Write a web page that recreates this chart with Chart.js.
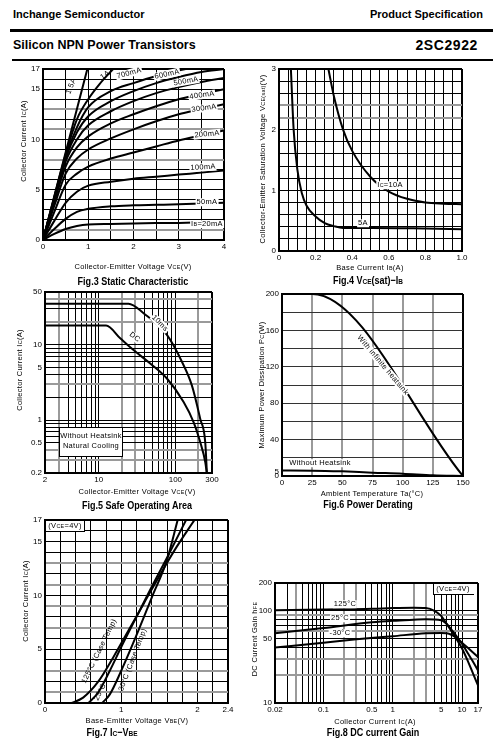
<!DOCTYPE html>
<html>
<head>
<meta charset="utf-8">
<script src="https://cdn.jsdelivr.net/npm/chart.js@4.4.1/dist/chart.umd.min.js"></script>
<style>
  body { margin: 0; background: #fff; width: 498px; height: 746px; position: relative; overflow: hidden;
         font-family: "Liberation Sans", Arial, sans-serif; color: #000; }
  canvas { position: absolute; }
  .t { position: absolute; white-space: nowrap; transform: translate(-50%, -50%); font-size: 7.5px;
       letter-spacing: 0.3px; line-height: 1; color: #000; filter: grayscale(1); }
  .w { background: #fff; padding: 0 1px; }
  .s { font-size: 72%; }
  .cap { font-weight: bold; font-size: 11px; letter-spacing: 0; }
  .hd { position: absolute; white-space: nowrap; font-weight: bold; transform: translateY(-50%); }
  .rule { position: absolute; background: #000; }
  .box { position: absolute; background: #fff; }
</style>
</head>
<body>
<div class="hd" style="left:13px;top:14px;font-size:11px">Inchange Semiconductor</div>
<div class="hd" style="right:15px;top:14px;font-size:11px">Product Specification</div>
<div class="rule" style="left:10px;top:29px;width:483px;height:3px"></div>
<div class="hd" style="left:13px;top:45px;font-size:12.5px">Silicon NPN Power Transistors</div>
<div class="hd" style="right:20px;top:45px;font-size:14px;letter-spacing:0.6px">2SC2922</div>
<div class="rule" style="left:12px;top:59px;width:481px;height:2px"></div>

<script>
// グリッドと目盛り
const f3XGrid = [0, 0.5, 1, 1.5, 2, 2.5, 3, 3.5, 4];
const f3XLabels = ["0", "1", "2", "3", "4"];
const f3YGrid = [0, 1, 2, 3, 4, 5, 6, 7, 8, 9, 10, 11, 12, 13, 14, 15, 16, 17];
const f3YLabels = ["0", "5", "10", "15", "17"];

// Fig.3 Static Characteristic
const f3Vce = [0, 0.25, 0.5, 0.75, 1, 1.5, 2, 2.5, 3, 3.5, 4];
const f3Ib20 = [0, 0.6, 1.1, 1.4, 1.55, 1.6, 1.65, 1.68, 1.7, 1.75, 1.8];
const f3Ib50 = [0, 1.1, 2.1, 2.8, 3.1, 3.35, 3.45, 3.5, 3.55, 3.62, 3.7];
const f3Ib100 = [0, 1.9, 3.7, 4.8, 5.4, 5.8, 6.1, 6.3, 6.5, 6.7, 6.9];
const f3Ib200 = [0, 2.8, 5.5, 6.6, 7.3, 8.1, 8.7, 9.3, 9.9, 10.4, 10.9];
const f3Ib300 = [0, 3.4, 6.6, 8.1, 9.0, 10.1, 11.0, 11.8, 12.5, 13.0, 13.5];
const f3Ib400 = [0, 3.8, 7.3, 9.2, 10.3, 11.6, 12.5, 13.3, 14.0, 14.5, 15.0];
const f3Ib500 = [0, 4.0, 7.8, 10.0, 11.4, 12.8, 13.8, 14.6, 15.2, 15.7, 16.1];
const f3Ib600 = [0, 4.1, 8.1, 10.7, 12.3, 13.8, 14.8, 15.6, 16.2, 16.7, 17.0];
const f3V700 = [0, 0.25, 0.5, 0.75, 1, 1.5, 2, 2.5, 3, 3.15];
const f3Ib700 = [0, 4.2, 8.3, 11.2, 13.2, 14.8, 15.6, 16.3, 16.85, 17];
const f3V1000 = [0, 0.25, 0.5, 0.75, 1, 1.25, 1.55];
const f3Ib1000 = [0, 4.3, 8.5, 12.0, 14.0, 15.5, 17];
const f3V1500 = [0, 0.5, 0.98];
const f3Ib1500 = [0, 8.7, 17];

// Fig.4 VCE(sat)-IB
const f4XGrid = [0, 0.05, 0.1, 0.15, 0.2, 0.25, 0.3, 0.35, 0.4, 0.45, 0.5, 0.55, 0.6, 0.65, 0.7, 0.75, 0.8, 0.85, 0.9, 0.95, 1];
const f4XLabels = ["0", "0.2", "0.4", "0.6", "0.8", "1.0"];
const f4YGrid = [0, 0.2, 0.4, 0.6, 0.8, 1, 1.2, 1.4, 1.6, 1.8, 2, 2.2, 2.4, 2.6, 2.8, 3];
const f4YLabels = ["0", "1", "2", "3"];
const f4Ib10 = [0.27, 0.3, 0.35, 0.4, 0.5, 0.6, 0.7, 0.8, 0.9, 1.0];
const f4Vce10 = [3.0, 2.55, 2.0, 1.65, 1.22, 0.98, 0.86, 0.8, 0.78, 0.77];
const f4Ib5 = [0.065, 0.08, 0.1, 0.125, 0.15, 0.2, 0.25, 0.3, 0.35, 0.5, 0.8, 1.0];
const f4Vce5 = [3.0, 2.0, 1.35, 0.95, 0.75, 0.57, 0.46, 0.41, 0.38, 0.38, 0.37, 0.36];

// Fig.5 Safe Operating Area
const f5XGrid = [2, 3, 4, 5, 6, 7, 8, 9, 10, 20, 30, 40, 50, 60, 70, 80, 90, 100, 200, 300];
const f5XLabels = ["2", "10", "100", "300"];
const f5YGrid = [0.2, 0.3, 0.4, 0.5, 0.6, 0.7, 0.8, 0.9, 1, 2, 3, 4, 5, 6, 7, 8, 9, 10, 20, 30, 40, 50];
const f5YLabels = ["0.2", "0.5", "1", "5", "10", "50"];
const f5V10ms = [2, 24.5, 38.5, 77.6, 121.7, 164, 211, 245, 258];
const f5I10ms = [35, 35, 26.2, 13.5, 5.96, 2.9, 1.04, 0.51, 0.19];
const f5VDC = [2, 12.5, 19.1, 28.5, 47, 77.6, 128, 173, 211, 245, 258];
const f5IDC = [18, 18, 12.2, 8.5, 5.65, 3.57, 1.74, 0.94, 0.51, 0.28, 0.19];

// Fig.6 Power Derating
const f6XGrid = [0, 25, 50, 75, 100, 125, 150];
const f6XLabels = ["0", "25", "50", "75", "100", "125", "150"];
const f6YGrid = [0, 5, 20, 40, 60, 80, 100, 120, 140, 160, 180, 200];
const f6YLabels = ["0", "5", "40", "80", "120", "160", "200"];
const f6Ta = [0, 25, 150];
const f6PcInf = [200, 200, 0];
const f6TaNo = [0, 25, 50, 75, 100, 125, 150];
const f6PcNo = [6, 5.9, 5.1, 3.7, 2.6, 0.8, 0];

// Fig.7 Ic-VBE
const f7XGrid = [0, 0.2, 0.4, 0.6, 0.8, 1, 1.2, 1.4, 1.6, 1.8, 2, 2.2, 2.4];
const f7XLabels = ["0", "1", "2", "2.4"];
const f7YGrid = f3YGrid;
const f7YLabels = ["0", "5", "10", "15", "17"];
const f7Vbe125 = [0.35, 0.5, 0.7, 0.9, 1.1, 1.3, 1.5, 1.7, 1.96];
const f7Ic125 = [0, 0.5, 2.0, 4.3, 6.8, 9.3, 11.8, 14.2, 17];
const f7Vbe25 = [0.57, 0.7, 0.85, 1.0, 1.2, 1.4, 1.6, 1.85];
const f7Ic25 = [0, 1.0, 3.0, 5.2, 8.0, 10.8, 13.5, 17];
const f7VbeM30 = [0.75, 0.85, 1.0, 1.2, 1.4, 1.6, 1.74];
const f7IcM30 = [0, 0.8, 3.0, 6.3, 9.8, 13.3, 17];

// Fig.8 DC current Gain
const f8XGrid = [0.02, 0.03, 0.04, 0.05, 0.06, 0.07, 0.08, 0.09, 0.1, 0.2, 0.3, 0.4, 0.5, 0.6, 0.7, 0.8, 0.9, 1, 2, 3, 4, 5, 6, 7, 8, 9, 10, 17];
const f8XLabels = ["0.02", "0.1", "0.5", "1", "5", "10", "17"];
const f8YGrid = [10, 20, 30, 40, 50, 60, 70, 80, 90, 100, 200];
const f8YLabels = ["10", "50", "100", "200"];
const f8Ic125 = [0.02, 0.1, 0.5, 1, 2, 3, 4, 5, 6, 8, 10, 12, 14, 17];
const f8Hfe125 = [101, 103, 105, 107, 108, 107, 100, 88, 72, 52, 39, 29, 22, 15.5];
const f8Ic25 = [0.02, 0.1, 0.5, 1, 2, 3, 5, 6, 7, 8, 10, 12, 14, 17];
const f8Hfe25 = [57, 65, 75, 78, 80, 81, 79, 72, 63, 55, 44, 35, 29, 22.5];
const f8IcM30 = [0.02, 0.1, 0.3, 1, 3, 5, 6, 7, 8, 10, 12, 14, 17];
const f8HfeM30 = [40, 45, 49, 53, 57, 57.5, 57, 55, 52, 45, 40, 36, 31.5];

const FONT = '"Liberation Sans", Arial, sans-serif';

function zip(xs, ys) {
  return xs.map((x, i) => ({ x: x, y: ys[i] }));
}

function curve(xs, ys, w) {
  return {
    data: zip(xs, ys),
    borderColor: "#000",
    borderWidth: w || 2,
    pointRadius: 0,
    fill: false,
    cubicInterpolationMode: "monotone",
  };
}

// 軸の設定
function axisOpts(a, size, dir) {
  const last = a.grid[a.grid.length - 1];
  const gray = a.gray || [];
  const hidden = a.hidden || [];
  return {
    type: a.log ? "logarithmic" : "linear",
    min: a.grid[0],
    max: last,
    afterBuildTicks: (s) => {
      s.ticks = a.grid.map((v) => ({ value: v }));
    },
    afterFit: (s) => {
      if (dir === "x") s.height = size;
      else s.width = size;
    },
    ticks: {
      autoSkip: false,
      maxRotation: 0,
      padding: dir === "x" ? 2 : 3,
      color: "#000",
      font: { family: FONT, size: 8 },
      callback: (v) => {
        const l = a.labels.find((t) => Math.abs(parseFloat(t) - v) < 1e-6);
        return l === undefined ? "" : l;
      },
    },
    grid: {
      drawTicks: false,
      color: (ctx) => {
        const v = ctx.tick.value;
        if (hidden.includes(v)) return "rgba(0,0,0,0)";
        if (v === last) return "#000";
        return gray.includes(v) ? "#9a9a9a" : a.lineColor || "#000";
      },
      lineWidth: (ctx) => {
        const v = ctx.tick.value;
        if (v === last) return 2;
        return gray.includes(v) ? 2 : 1;
      },
    },
    border: { color: "#000", width: 2 },
  };
}

// チャート作成
function plot(box, xAxis, yAxis, datasets) {
  const PL = 36, PR = 14, PT = 8, PB = 18;
  const c = document.createElement("canvas");
  c.width = box.r - box.l + PL + PR;
  c.height = box.b - box.t + PT + PB;
  c.style.left = box.l - PL + "px";
  c.style.top = box.t - PT + "px";
  document.body.appendChild(c);
  return new Chart(c, {
    type: "line",
    data: { datasets: datasets },
    options: {
      responsive: false,
      animation: false,
      events: [],
      layout: { padding: { left: 0, top: PT, right: PR, bottom: 0 } },
      plugins: { legend: { display: false }, tooltip: { enabled: false } },
      scales: { x: axisOpts(xAxis, PB, "x"), y: axisOpts(yAxis, PL, "y") },
    },
  });
}

// テキスト
function txt(html, x, y, extra, cls) {
  const d = document.createElement("div");
  d.className = "t" + (cls ? " " + cls : "");
  d.innerHTML = html;
  d.style.left = x + "px";
  d.style.top = y + "px";
  if (extra) d.style.cssText += extra;
  document.body.appendChild(d);
  return d;
}
function rot(deg) {
  return "transform:translate(-50%,-50%) rotate(" + deg + "deg);";
}
const CAP = "transform:translate(-50%,-50%) scaleX(0.82);";
function boxDiv(l, t, w, h, border) {
  const d = document.createElement("div");
  d.className = "box";
  d.style.cssText += "left:" + l + "px;top:" + t + "px;width:" + w + "px;height:" + h + "px;" + border;
  document.body.appendChild(d);
}

// Fig.3
plot({ l: 43, t: 69, r: 224, b: 240 },
  { grid: f3XGrid, labels: f3XLabels },
  { grid: f3YGrid, labels: f3YLabels, gray: [1, 8, 11, 13] },
  [
    curve(f3Vce, f3Ib20), curve(f3Vce, f3Ib50), curve(f3Vce, f3Ib100), curve(f3Vce, f3Ib200),
    curve(f3Vce, f3Ib300), curve(f3Vce, f3Ib400), curve(f3Vce, f3Ib500), curve(f3Vce, f3Ib600),
    curve(f3V700, f3Ib700), curve(f3V1000, f3Ib1000), curve(f3V1500, f3Ib1500),
  ]);

// Fig.4
plot({ l: 279, t: 69, r: 462, b: 251 },
  { grid: f4XGrid, labels: f4XLabels },
  { grid: f4YGrid, labels: f4YLabels, gray: [2.2, 2.4] },
  [curve(f4Ib10, f4Vce10), curve(f4Ib5, f4Vce5)]);

// Fig.5
plot({ l: 45, t: 292, r: 212, b: 473 },
  { grid: f5XGrid, labels: f5XLabels, log: true, gray: [3, 20, 30, 200] },
  { grid: f5YGrid, labels: f5YLabels, log: true, gray: [0.3, 0.4, 3, 20, 40] },
  [curve(f5V10ms, f5I10ms), curve(f5VDC, f5IDC)]);

// Fig.6
plot({ l: 282, t: 294, r: 463, b: 476 },
  { grid: f6XGrid, labels: f6XLabels, gray: [25, 50, 75, 100, 125] },
  { grid: f6YGrid, labels: f6YLabels, hidden: [5], lineColor: "#333" },
  [curve(f6Ta, f6PcInf), curve(f6TaNo, f6PcNo)]);

// Fig.7
plot({ l: 45, t: 520, r: 228, b: 703 },
  { grid: f7XGrid, labels: f7XLabels },
  { grid: f7YGrid, labels: f7YLabels, gray: [1, 3, 7, 9, 11, 13] },
  [curve(f7Vbe125, f7Ic125), curve(f7Vbe25, f7Ic25), curve(f7VbeM30, f7IcM30)]);

// Fig.8
plot({ l: 275, t: 583, r: 478, b: 703 },
  { grid: f8XGrid, labels: f8XLabels, log: true, gray: [0.04, 0.2, 0.3, 2, 3] },
  { grid: f8YGrid, labels: f8YLabels, log: true, gray: [90, 60, 30, 20] },
  [curve(f8Ic125, f8Hfe125), curve(f8Ic25, f8Hfe25), curve(f8IcM30, f8HfeM30)]);

// 軸タイトルとキャプション
txt('Collector-Emitter Voltage V<span class="s">CE</span>(V)', 133, 267);
txt('Collector Current I<span class="s">C</span>(A)', 24, 141, rot(-90));
txt('Fig.3 Static Characteristic', 133, 281, CAP, "cap");

txt('Base Current I<span class="s">B</span>(A)', 370, 268);
txt('Collector-Emitter Saturation Voltage V<span class="s">CE(sat)</span>(V)', 263, 159, rot(-90));
txt('Fig.4 V<span class="s">CE</span>(sat)−I<span class="s">B</span>', 368, 280, CAP, "cap");

txt('Collector-Emitter Voltage V<span class="s">CE</span>(V)', 137, 492);
txt('Collector Current I<span class="s">C</span>(A)', 20, 370, rot(-90));
txt('Fig.5  Safe Operating Area', 137, 505, CAP, "cap");

txt('Ambient Temperature Ta(°C)', 372, 494);
txt('Maximum Power Dissipation P<span class="s">C</span>(W)', 262, 385, rot(-90));
txt('Fig.6  Power Derating', 368, 504, CAP, "cap");

txt('Base-Emitter Voltage V<span class="s">BE</span>(V)', 137, 721);
txt('Collector Current I<span class="s">C</span>(A)', 26, 601, rot(-90));
txt('Fig.7 I<span class="s">C</span>−V<span class="s">BE</span>', 112, 732, CAP, "cap");

txt('Collector Current I<span class="s">C</span>(A)', 375, 722);
txt('DC Current Gain h<span class="s">FE</span>', 255, 639, rot(-90));
txt('Fig.8 DC current Gain', 373, 732, CAP, "cap");

// Fig.3 ラベル
txt('1.5A', 71, 86, rot(-68));
txt('1A', 105, 75, rot(-35));
txt('700mA', 129, 73, rot(-15), "w");
txt('600mA', 167, 74, rot(-12), "w");
txt('500mA', 186, 81, rot(-10), "w");
txt('400mA', 202, 95, rot(-8), "w");
txt('300mA', 204, 108, rot(-8), "w");
txt('200mA', 207, 134, rot(-6), "w");
txt('100mA', 203, 167, rot(-3), "w");
txt('50mA', 207, 202, "", "w");
txt('I<span class="s">B</span>=20mA', 207, 224, "", "w");

// Fig.4 ラベル
txt('I<span class="s">C</span>=10A', 390, 185, "", "w");
txt('5A', 363, 223, "", "w");

// Fig.5 ラベル
txt('10ms', 160, 323, rot(45), "w");
txt('DC', 135, 337, rot(38), "w");
boxDiv(59, 427, 62, 28, "border:1px solid #000;");
txt('Without Heatsink', 91, 436);
txt('Natural Cooling', 91, 446);

// Fig.6 ラベル
txt('With infinite heatsink', 383, 365, rot(50), "w");
txt('Without Heatsink', 320, 463, "", "w");

// Fig.7 ラベル
boxDiv(46, 521, 38, 10, "border-right:1px solid #000;border-bottom:1px solid #000;");
txt('(V<span class="s">CE</span>=4V)', 65, 526);
txt('125°C (Case Temp)', 99, 651, rot(-64));
txt('25°C', 100, 692, rot(-64));
txt('-30°C (Case Temp)', 132, 661, rot(-69));

// Fig.8 ラベル
boxDiv(433, 584, 40, 10, "border-left:1px solid #000;border-bottom:1px solid #000;");
txt('(V<span class="s">CE</span>=4V)', 453, 589);
txt('125°C', 345, 604, "", "w");
txt('25°C', 340, 618, "", "w");
txt('-30°C', 340, 633, "", "w");
</script>
</body>
</html>
